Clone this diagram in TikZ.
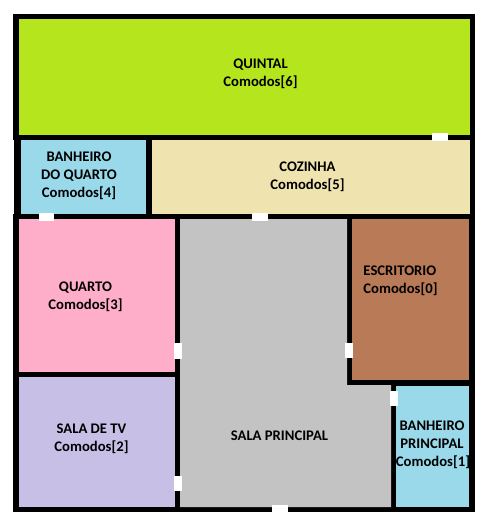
\documentclass[tikz,border=0pt]{standalone}
\usepackage{fontspec}
\setmainfont{Carlito}
\tikzset{
  room/.style={draw=none},
  door/.style={fill=white,draw=none},
  lbl/.style={inner sep=0pt,outer sep=0pt,align=center,text=black,font=\fontsize{14.67bp}{18bp}\selectfont\bfseries},
}
\definecolor{cQuintal}{HTML}{B5E61D}
\definecolor{cAzul}{HTML}{99D9EA}
\definecolor{cCozinha}{HTML}{EFE4B0}
\definecolor{cQuarto}{HTML}{FFAEC9}
\definecolor{cTv}{HTML}{C8BFE7}
\definecolor{cSala}{HTML}{C3C3C3}
\definecolor{cEscr}{HTML}{B97A57}
\begin{document}
\begin{tikzpicture}[x=1bp,y=-1bp]
\useasboundingbox (0,0) rectangle (488,532);
\fill[white] (0,0) rectangle (488,532);
% walls
\fill[black] (13,14) rectangle (475,512);
\fill[white] (13,140) rectangle (14,214);
% rooms
\fill[cQuintal,room] (19,19) rectangle (470,135);
\fill[cAzul,room] (21,140) rectangle (146,214);
\fill[cCozinha,room] (152,140) rectangle (470,214);
\fill[cQuarto,room] (19,219) rectangle (175,372);
\fill[cTv,room] (19,377) rectangle (175,507);
\fill[cSala,room] (180,219) -- (347,219) -- (347,385) -- (391,385) -- (391,507) -- (180,507) -- cycle;
\fill[cEscr,room] (352,219) rectangle (469,380);
\fill[cAzul,room] (396,386) rectangle (469,507);
% doors
\fill[door] (432,133) rectangle (448,141);
\fill[door] (39,213) rectangle (54,221);
\fill[door] (252,213) rectangle (268,221);
\fill[door] (174,343) rectangle (182,359);
\fill[door] (174,476) rectangle (182,491);
\fill[door] (345,343) rectangle (353,358);
\fill[door] (390,391) rectangle (398,406);
\fill[door] (272,505) rectangle (288,512);
% labels
\node[lbl] (quintal) at (260.5,74) {QUINTAL\\Comodos[6]};
\node[lbl] (banhq) at (79,176) {BANHEIRO\\DO QUARTO\\Comodos[4]};
\node[lbl] (cozinha) at (307.5,177) {COZINHA\\Comodos[5]};
\node[lbl] (quarto) at (85.5,297) {QUARTO\\Comodos[3]};
\node[lbl,align=left] (escr) at (400.5,281) {ESCRITORIO\\Comodos[0]};
\node[lbl] (tv) at (91.5,439) {SALA DE TV\\Comodos[2]};
\node[lbl] (sala) at (279.5,436) {SALA PRINCIPAL};
\node[lbl] (banhp) at (432,445) {BANHEIRO\\PRINCIPAL\\\hspace*{2bp}Comodos[1]};
\end{tikzpicture}
\end{document}
